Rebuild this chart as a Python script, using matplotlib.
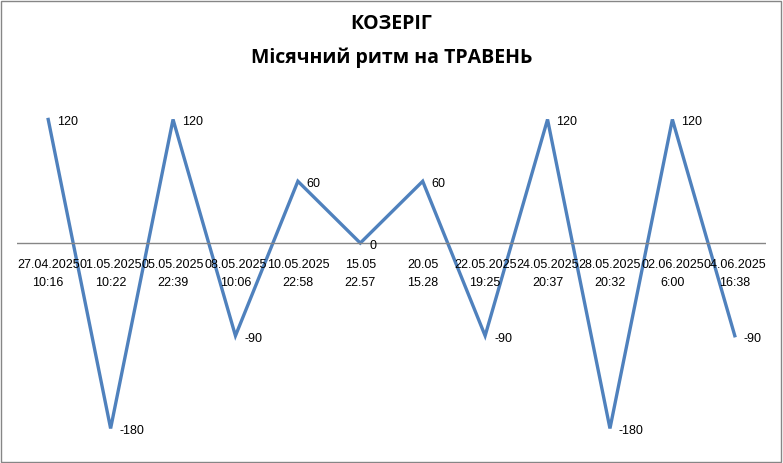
import numpy as np
import matplotlib.pyplot as plt

dates = ['27.04.2025\n10:16', '01.05.2025\n10:22', '05.05.2025\n22:39', '08.05.2025\n10:06',
         '10.05.2025\n22:58', '15.05\n22.57', '20.05\n15.28', '22.05.2025\n19:25',
         '24.05.2025\n20:37', '28.05.2025\n20:32', '02.06.2025\n6:00', '04.06.2025\n16:38']
values = [120, -180, 120, -90, 60, 0, 60, -90, 120, -180, 120, -90]

x = np.arange(len(values))

fig = plt.figure(figsize=(7.83, 4.63), dpi=100)
# axes from pixel 80 to 444 vertically
ax = fig.add_axes([0.0217, 19 / 463, 0.9566, 364 / 463])
ax.plot(x, values, color='#4F81BD', lw=2.4, solid_joinstyle='miter')
ax.axhline(0, color='#868686', lw=1)
ax.set_xlim(-0.5, len(values) - 0.5)
ax.set_ylim(-195.1, 158.3)
ax.axis('off')

for xi, lab in zip(x, dates):
    ax.annotate(lab, (xi, 0), xytext=(0, -16), textcoords='offset pixels',
                ha='center', va='top', fontsize=9, family='Liberation Sans',
                linespacing=1.65)

for xi, v in zip(x, values):
    ax.annotate(str(v), (xi, v), xytext=(9, -3), textcoords='offset pixels',
                ha='left', va='center', fontsize=9, family='Liberation Sans')

fig.text(0.5, 1 - 24 / 463, 'КОЗЕРІГ', ha='center', va='center',
         fontsize=14, fontweight='bold', family='Open Sans')
fig.text(0.5, 1 - 58 / 463, 'Місячний ритм на ТРАВЕНЬ', ha='center', va='center',
         fontsize=14, fontweight='bold', family='Open Sans')

border = plt.Rectangle((0.001, 0.002), 0.997, 0.996, transform=fig.transFigure,
                       fill=False, edgecolor='#868686', lw=1)
fig.patches.append(border)

fig.savefig('out.png', dpi=100)
